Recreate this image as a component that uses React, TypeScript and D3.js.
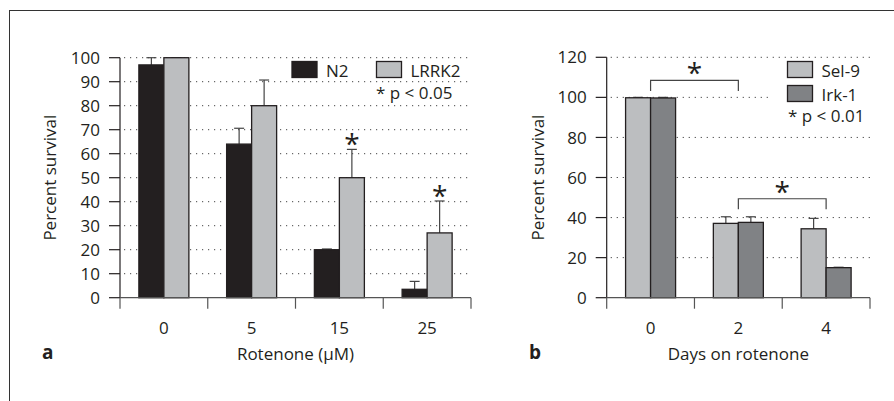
import * as d3 from "d3";
import { useEffect, useRef } from "react";

// panel a: survival vs rotenone dose
const rotenoneDoses = ["0", "5", "15", "25"];
const n2Survival = [97, 64, 20, 3.5];
const n2ErrorTop = [100, 70.6, 20.3, 6.8];
const lrrk2Survival = [100, 80, 50, 27];
const lrrk2ErrorTop = [100, 90.7, 61.8, 40.3];
const lrrk2Significant = [false, false, true, true];
const aTicks = [0, 10, 20, 30, 40, 50, 60, 70, 80, 90, 100];

// panel b: survival vs days on rotenone
const days = ["0", "2", "4"];
const sel9Survival = [99.8, 37.1, 34.4];
const sel9ErrorTop = [100, 40.4, 39.6];
const irk1Survival = [99.7, 37.6, 15];
const irk1ErrorTop = [100, 40.4, 15.2];
const bTicks = [0, 20, 40, 60, 80, 100, 120];
const bBrackets = [
  { from: "0", to: "2", top: 108.5, leg: 103.2 },
  { from: "2", to: "4", top: 49.4, leg: 44.2 },
];

const FONT = "'Open Sans', sans-serif";
const INK = "#231f20";

function drawPanel(svg, o) {
  const g = svg.append("g");
  const x = d3.scaleBand().domain(o.cats).range(o.xRange);
  const y = d3.scaleLinear().domain([0, o.yMax]).range(o.yRange);
  const groupW = 50;
  const sub = d3.scaleBand().domain(o.series.map(s => s.name)).range([0, groupW]);
  const x0 = o.xRange[0];
  const x1 = o.xRange[1];

  // dotted grid
  g.selectAll("line.grid").data(o.ticks.filter(t => t > 0)).join("line")
    .attr("x1", x0 + 4).attr("x2", x1)
    .attr("y1", d => y(d)).attr("y2", d => y(d))
    .attr("stroke", "#444").attr("stroke-width", 1)
    .attr("stroke-dasharray", "1.2,4.8");

  if (o.legendMask) {
    g.append("rect").attr("x", o.legendMask[0]).attr("y", o.legendMask[1])
      .attr("width", o.legendMask[2]).attr("height", o.legendMask[3]).attr("fill", "#fff");
  }

  // bars + error bars
  o.series.forEach(s => {
    const bx = (c) => x(c) + (x.bandwidth() - groupW) / 2 + sub(s.name);
    g.selectAll(null).data(o.cats).join("line")
      .attr("x1", (c) => bx(c) + sub.bandwidth() / 2)
      .attr("x2", (c) => bx(c) + sub.bandwidth() / 2)
      .attr("y1", (c, i) => y(s.values[i]))
      .attr("y2", (c, i) => y(s.err[i]))
      .attr("stroke", "#444").attr("stroke-width", 1.2);
    g.selectAll(null).data(o.cats).join("line")
      .attr("x1", (c) => bx(c) + sub.bandwidth() / 2 - 5)
      .attr("x2", (c) => bx(c) + sub.bandwidth() / 2 + 5)
      .attr("y1", (c, i) => y(s.err[i]))
      .attr("y2", (c, i) => y(s.err[i]))
      .attr("stroke", "#444").attr("stroke-width", 1.2);
    g.selectAll(null).data(o.cats).join("rect")
      .attr("x", bx)
      .attr("y", (c, i) => y(s.values[i]))
      .attr("width", sub.bandwidth())
      .attr("height", (c, i) => y(0) - y(s.values[i]))
      .attr("fill", s.color).attr("stroke", INK).attr("stroke-width", 1.3);
    if (s.stars) {
      g.selectAll(null).data(o.cats.filter((c, i) => s.stars[i])).join("text")
        .attr("x", c => bx(c) + sub.bandwidth() / 2)
        .attr("y", c => y(s.err[o.cats.indexOf(c)]) - 9 + 14)
        .attr("text-anchor", "middle")
        .attr("font-family", FONT).attr("font-size", 28).attr("fill", INK)
        .text("*");
    }
  });

  // brackets
  if (o.brackets) {
    o.brackets.forEach(b => {
      const xa = x(b.from) + x.bandwidth() / 2;
      const xb = x(b.to) + x.bandwidth() / 2;
      g.append("path")
        .attr("d", `M${xa},${y(b.leg)}V${y(b.top)}H${xb}V${y(b.leg)}`)
        .attr("fill", "none").attr("stroke", "#444").attr("stroke-width", 1.2);
      g.append("text").attr("x", (xa + xb) / 2).attr("y", y(b.top) - 11 + 14)
        .attr("text-anchor", "middle")
        .attr("font-family", FONT).attr("font-size", 28).attr("fill", INK)
        .text("*");
    });
  }

  // y axis
  g.append("line").attr("x1", x0).attr("x2", x0).attr("y1", y(0)).attr("y2", y(o.yMax))
    .attr("stroke", INK).attr("stroke-width", 1.2);
  g.selectAll("line.ytick").data(o.ticks).join("line")
    .attr("x1", x0 - 11).attr("x2", x0).attr("y1", d => y(d)).attr("y2", d => y(d))
    .attr("stroke", INK).attr("stroke-width", 1.2);
  g.selectAll("text.ytick").data(o.ticks).join("text")
    .attr("x", x0 - 20).attr("y", d => y(d)).attr("dy", "0.36em")
    .attr("text-anchor", "end").attr("font-family", FONT).attr("font-size", 17).attr("fill", INK)
    .text(d => d);

  // x axis
  g.append("line").attr("x1", x0).attr("x2", x1).attr("y1", y(0)).attr("y2", y(0))
    .attr("stroke", "#555").attr("stroke-width", 1.2);
  const edges = o.cats.map(c => x(c)).concat([x1]);
  g.selectAll("line.xtick").data(edges).join("line")
    .attr("x1", d => d).attr("x2", d => d).attr("y1", y(0)).attr("y2", y(0) + 11)
    .attr("stroke", "#555").attr("stroke-width", 1.2);
  g.selectAll("text.xtick").data(o.cats).join("text")
    .attr("x", c => x(c) + x.bandwidth() / 2).attr("y", 334)
    .attr("text-anchor", "middle").attr("font-family", FONT).attr("font-size", 17).attr("fill", INK)
    .text(c => c);

  // titles
  g.append("text").attr("x", (x0 + x1) / 2).attr("y", 360)
    .attr("text-anchor", "middle").attr("font-family", FONT).attr("font-size", 17).attr("fill", INK)
    .text(o.xLabel);
  g.append("text").attr("transform", `translate(${o.yLabelX},${(y(0) + y(o.yMax)) / 2 + 0}) rotate(-90)`)
    .attr("text-anchor", "middle").attr("font-family", FONT).attr("font-size", 17).attr("fill", INK)
    .text("Percent survival");
  g.append("text").attr("x", o.letterX).attr("y", 359)
    .attr("font-family", FONT).attr("font-size", 19).attr("font-weight", "bold").attr("fill", INK)
    .text(o.letter);

  // legend
  o.legend.forEach(l => {
    if (l.color) {
      g.append("rect").attr("x", l.x).attr("y", l.y).attr("width", 25).attr("height", 16)
        .attr("fill", l.color).attr("stroke", INK).attr("stroke-width", 1.3);
      g.append("text").attr("x", l.x + 34).attr("y", l.y + 15)
        .attr("font-family", FONT).attr("font-size", 17).attr("fill", INK).text(l.label);
    } else {
      g.append("text").attr("x", l.x).attr("y", l.y)
        .attr("font-family", FONT).attr("font-size", 17).attr("fill", INK).text(l.label);
    }
  });
}

const App = () => {
  const svgRef = useRef(null);

  useEffect(() => {
    document.body.style.margin = "0";
    const svg = d3.select(svgRef.current);
    svg.selectAll("*").remove();

    svg.append("rect").attr("x", 9.5).attr("y", 10.5).attr("width", 1000).attr("height", 500)
      .attr("fill", "#fff").attr("stroke", "#333").attr("stroke-width", 1);

    drawPanel(svg, {
      cats: rotenoneDoses, yMax: 100, ticks: aTicks,
      xRange: [120, 471], yRange: [297.7, 57.7],
      series: [
        { name: "N2", values: n2Survival, err: n2ErrorTop, color: INK },
        { name: "LRRK2", values: lrrk2Survival, err: lrrk2ErrorTop, color: "#bcbec0", stars: lrrk2Significant },
      ],
      xLabel: "Rotenone (μM)", yLabelX: 56, letter: "a", letterX: 42,
      legend: [
        { x: 292, y: 61.5, color: INK, label: "N2" },
        { x: 376.5, y: 61.5, color: "#bcbec0", label: "LRRK2" },
        { x: 376, y: 99, label: "* p < 0.05" },
      ],
    });

    drawPanel(svg, {
      cats: days, yMax: 120, ticks: bTicks,
      xRange: [606.7, 870], yRange: [297.7, 57.3],
      series: [
        { name: "Sel-9", values: sel9Survival, err: sel9ErrorTop, color: "#bcbec0" },
        { name: "Irk-1", values: irk1Survival, err: irk1ErrorTop, color: "#808285" },
      ],
      brackets: bBrackets,
      xLabel: "Days on rotenone", yLabelX: 544, letter: "b", letterX: 529,
      legendMask: [772, 60, 110, 68],
      legend: [
        { x: 787.5, y: 61.5, color: "#bcbec0", label: "Sel-9" },
        { x: 787.5, y: 85.5, color: "#808285", label: "Irk-1" },
        { x: 788, y: 122, label: "* p < 0.01" },
      ],
    });
  }, []);

  return <svg ref={svgRef} width={894} height={401} style={{ display: "block" }} />;
};

export default App;
